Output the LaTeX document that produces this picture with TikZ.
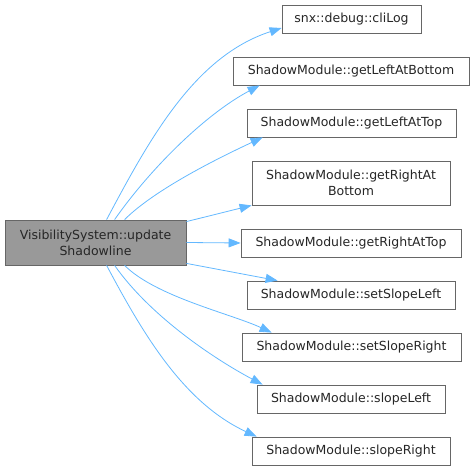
\documentclass[tikz,border=0pt]{standalone}
\usepackage{fontspec}
\setmainfont{DejaVu Sans}
\usetikzlibrary{arrows.meta}
\definecolor{edgeblue}{HTML}{63B8FF}
\definecolor{boxborder}{HTML}{666666}
\definecolor{mainfill}{HTML}{999999}
\begin{document}
\begin{tikzpicture}[x=1pt,y=-1pt,
  box/.style={draw=boxborder,fill=white,line width=0.8pt,inner sep=2pt,minimum height=28pt,align=center,font=\fontsize{12.5}{16}\selectfont,text=black!85},
  mainbox/.style={box,fill=mainfill,minimum height=45pt},
  edge/.style={draw=edgeblue,line width=0.8pt,-{Triangle[length=12pt,width=9pt]}}]
\useasboundingbox (0,0) rectangle (474,470);
\node[mainbox,minimum width=181pt] (main) at (95.5,242.5) {VisibilitySystem::update\\Shadowline};
\node[box,minimum width=139pt] (cli) at (351.5,19) {snx::debug::cliLog};
\node[box,minimum width=236pt] (glb) at (351,71) {ShadowModule::getLeftAtBottom};
\node[box,minimum width=209pt] (glt) at (351.5,123) {ShadowModule::getLeftAtTop};
\node[box,minimum width=198pt,minimum height=44pt] (grb) at (351,183) {ShadowModule::getRightAt\\Bottom};
\node[box,minimum width=220pt] (grt) at (351,243) {ShadowModule::getRightAtTop};
\node[box,minimum width=208pt] (ssl) at (351,295) {ShadowModule::setSlopeLeft};
\node[box,minimum width=219pt] (ssr) at (351.5,347) {ShadowModule::setSlopeRight};
\node[box,minimum width=188pt] (sl) at (351,399) {ShadowModule::slopeLeft};
\node[box,minimum width=198pt] (sr) at (351,451) {ShadowModule::slopeRight};

\draw[edge] ([xshift=102pt]main.north west) to[out=62,in=198,looseness=0.9] ([yshift=-9pt]cli.west);
\draw[edge] ([xshift=110pt]main.north west) to[out=55,in=208,looseness=0.8] ([xshift=27pt]glb.south west);
\draw[edge] ([xshift=120pt]main.north west) to[out=45,in=205,looseness=0.7] ([xshift=16pt]glt.south west);
\draw[edge] ([yshift=-2pt]main.north east) -- (grb.south west);
\draw[edge] (main.east) -- (grt.west);
\draw[edge] ([yshift=2pt]main.south east) -- ([xshift=31pt]ssl.north west);
\draw[edge] ([xshift=120pt]main.south west) to[out=-45,in=155,looseness=0.7] ([xshift=30pt]ssr.north west);
\draw[edge] ([xshift=110pt]main.south west) to[out=-55,in=152,looseness=0.8] ([xshift=6pt]sl.north west);
\draw[edge] ([xshift=102pt]main.south west) to[out=-62,in=155,looseness=0.9] ([xshift=5pt]sr.north west);
\end{tikzpicture}
\end{document}
